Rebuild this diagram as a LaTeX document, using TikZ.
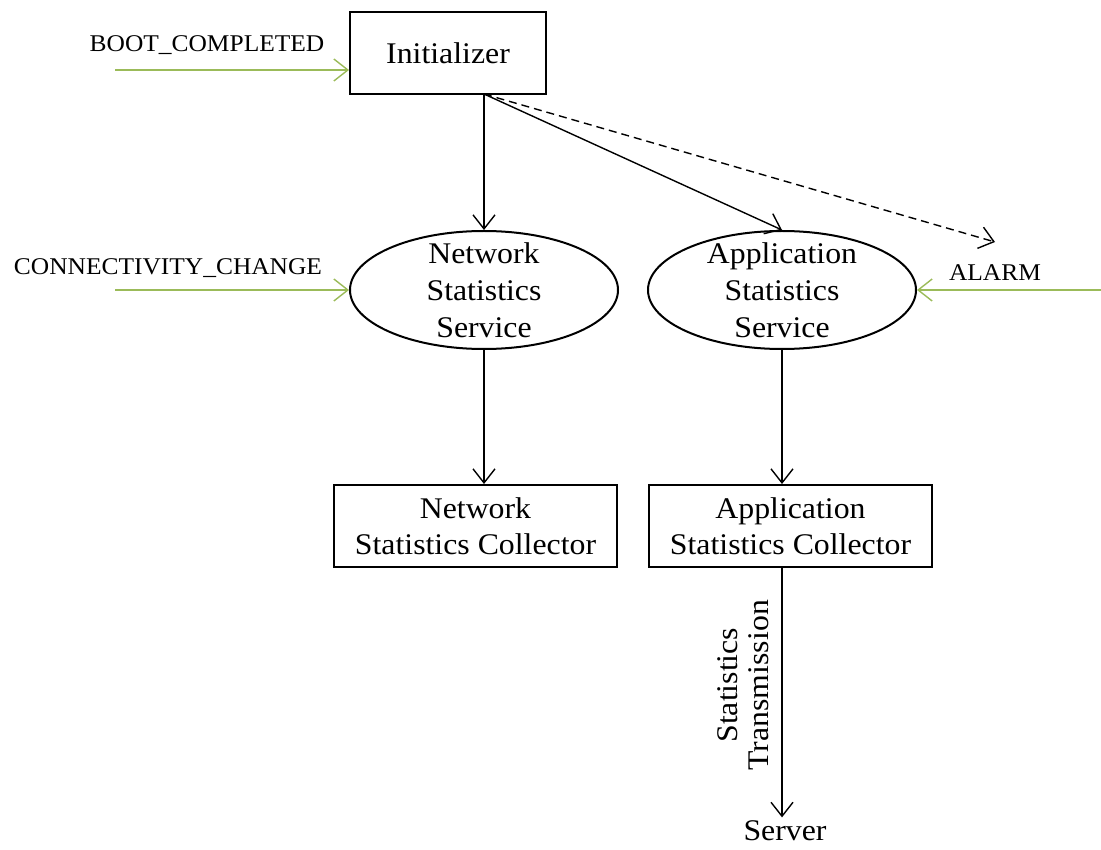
\documentclass[tikz,border=0pt]{standalone}
\usepackage{fontspec}
\setmainfont{Liberation Serif}[FakeStretch=1.06]
\usetikzlibrary{arrows.meta,shapes.geometric}
\definecolor{evgreen}{HTML}{9BBB59}
\tikzset{
  bigtext/.style={font=\fontsize{30}{37}\selectfont, align=center},
  smalltext/.style={font=\fontsize{24}{28}\selectfont},
  boxnode/.style={draw, line width=2pt, bigtext, inner sep=0pt},
  ellnode/.style={draw, ellipse, line width=2pt, bigtext, inner xsep=0pt, inner ysep=-14pt,
                  minimum width=268pt, minimum height=118pt},
  flow/.style={line width=1.4pt, -{Straight Barb[length=14pt,width=22pt,line width=1.4pt]}},
  event/.style={flow, draw=evgreen},
}
\begin{document}
\begin{tikzpicture}[x=1pt,y=-1pt]
\useasboundingbox (0,0) rectangle (1101,850);

% components
\node[boxnode, minimum width=196pt, minimum height=82pt] (init) at (448,53) {Initializer};
\node[ellnode] (nss) at (484,290) {Network\\Statistics\\Service};
\node[ellnode] (ass) at (782,290) {Application\\Statistics\\Service};
\node[boxnode, minimum width=283pt, minimum height=82pt] (nsc) at (475.5,526) {Network\\[-1pt]Statistics Collector};
\node[boxnode, minimum width=283pt, minimum height=82pt] (asc) at (790.5,526) {Application\\[-1pt]Statistics Collector};
\node[bigtext] (server) at (785,831) {Server};

% broadcast events
\node[smalltext] (boot) at (207,45) {BOOT\_COMPLETED};
\node[smalltext] (conn) at (168,268) {CONNECTIVITY\_CHANGE};
\node[smalltext] (alarm) at (995,273) {ALARM};
\coordinate (bootsrc) at (115,70);
\coordinate (connsrc) at (115,0);
\coordinate (alarmsrc) at (1101,0);
\coordinate (alarmdst) at (995,242);
\coordinate (initout) at (484,94);

\draw[event] (bootsrc) -- (init.west |- bootsrc);
\draw[event] (connsrc |- nss.west) -- (nss.west);
\draw[event] (alarmsrc |- ass.east) -- (ass.east);

% control flow
\draw[flow] (initout) -- (nss.north);
\draw[flow] (initout) -- (ass.north);
\draw[flow, dashed, dash pattern=on 8pt off 5pt] (initout) -- (alarmdst);
\draw[flow] (nss.south) -- (nsc.north -| nss.south);
\draw[flow] (ass.south) -- (asc.north -| ass.south);
\draw[flow] (asc.south -| ass.south) -- node[pos=0.47, left=9pt, rotate=90, anchor=south,
  font=\fontsize{30}{31}\selectfont, align=center] (tx) {Statistics\\Transmission} (server.north -| ass.south);
\end{tikzpicture}
\end{document}
